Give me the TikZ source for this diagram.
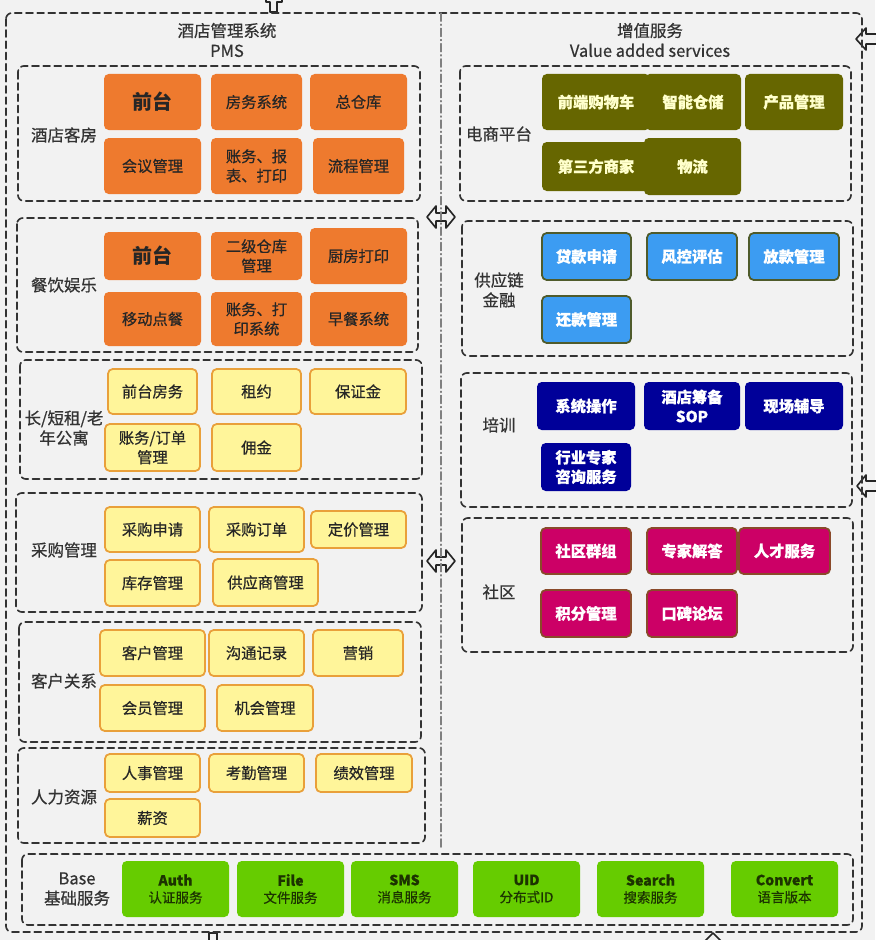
\documentclass[tikz,border=0pt]{standalone}
\usepackage{fontspec}
\setmainfont{Noto Sans CJK SC}
\newfontfamily\medfont[FakeBold=0.6]{Noto Sans CJK SC}
\usetikzlibrary{arrows.meta}
\definecolor{bgc}{HTML}{F2F2F2}
\definecolor{lineg}{HTML}{333333}
\definecolor{orafill}{HTML}{EE7A2E}
\definecolor{yelfill}{HTML}{FFF59A}
\definecolor{yeldraw}{HTML}{E9A03A}
\definecolor{olvfill}{HTML}{666600}
\definecolor{olvtext}{HTML}{FFFFCC}
\definecolor{blufill}{HTML}{3C9CF2}
\definecolor{bludraw}{HTML}{4F5B2B}
\definecolor{navfill}{HTML}{000099}
\definecolor{magfill}{HTML}{CC0066}
\definecolor{magdraw}{HTML}{8A4A2A}
\definecolor{grnfill}{HTML}{66CC00}
\definecolor{grntext}{HTML}{1C3300}
\newcommand{\cellfont}{\medfont\fontsize{13}{16.5}\selectfont}
\newcommand{\grpfont}{\medfont\fontsize{14}{17}\selectfont}
\newcommand{\bigcell}{\fontsize{17}{20}\selectfont\bfseries}
\newcommand{\basefont}{\medfont\fontsize{11.5}{14.5}\selectfont}

\begin{document}
\begin{tikzpicture}[>=Latex, line cap=round, line join=round,
	x=0.85pt, y=-0.85pt,
	grp/.style={draw=lineg, line width=1.4pt, dash pattern=on 6pt off 3.5pt, rounded corners=5pt},
	sz/.style 2 args={minimum width=#1*0.85pt, minimum height=#2*0.85pt},
	cell/.style={rounded corners=4pt, inner sep=0pt, align=center, font=\cellfont},
	grplabel/.style={align=center, text=lineg, font=\grpfont},
	ora/.style={cell, fill=orafill, text=black!85},
	yel/.style={cell, fill=yelfill, draw=yeldraw, line width=1.5pt, text=black!85},
	olv/.style={cell, fill=olvfill, text=olvtext, font=\cellfont\bfseries},
	blu/.style={cell, fill=blufill, draw=bludraw, line width=1.5pt, text=white, font=\cellfont\bfseries},
	nav/.style={cell, fill=navfill, text=white, font=\cellfont\bfseries},
	mag/.style={cell, fill=magfill, draw=magdraw, line width=1.5pt, text=white, font=\cellfont\bfseries},
	grn/.style={cell, fill=grnfill, text=grntext, font=\basefont},
	blockarr/.style={draw=black!85, line width=1.4pt, fill=bgc}]

% background and page size
\fill[bgc] (0,0) rectangle (875,940);
\useasboundingbox (0,0) rectangle (875,940);

% cut-off block arrows at the edges
\draw[blockarr] (427,217) -- (436,206) -- (436,213) -- (446,213) -- (446,206) -- (455,217)
	-- (446,228) -- (446,221) -- (436,221) -- (436,228) -- cycle;
\draw[blockarr] (427,561) -- (436,550) -- (436,557) -- (446,557) -- (446,550) -- (455,561)
	-- (446,572) -- (446,565) -- (436,565) -- (436,572) -- cycle;
\draw[blockarr] (877,34) -- (866,34) -- (866,28) -- (856,39) -- (866,50) -- (866,44) -- (877,44);
\draw[blockarr] (877,481) -- (866,481) -- (866,475) -- (857,486) -- (866,497) -- (866,491) -- (877,491);
\draw[blockarr] (266,-2) -- (266,2) -- (270,2) -- (270,12) -- (277,12) -- (277,2) -- (282,2) -- (282,-2);
\draw[blockarr] (209,942) -- (209,933) -- (217,933) -- (217,942);
\draw[blockarr] (704,942) -- (713,933) -- (722,942);

% outer frame and divider
\draw[grp] (6,13) rectangle (862,932);
\draw[black!50, line width=1pt, dash pattern=on 7pt off 2.5pt on 1pt off 2.5pt] (441,13) -- (441,848);

%========================
% Left: PMS
%========================
\begin{scope}
	\node[grplabel] (pms) at (227,40) {酒店管理系统\\PMS};

	% 酒店客房
	\draw[grp] (18,66) rectangle (420,201);
	\node[grplabel] (kf) at (64,135) {酒店客房};
	\node[ora, sz={97}{56}, font=\bigcell] (kf1) at (152.5,102) {前台};
	\node[ora, sz={91}{56}] (kf2) at (256.5,102) {房务系统};
	\node[ora, sz={97}{56}] (kf3) at (358.5,102) {总仓库};
	\node[ora, sz={97}{56}] (kf4) at (152.5,166) {会议管理};
	\node[ora, sz={91}{56}] (kf5) at (256.5,166) {账务、报\\表、打印};
	\node[ora, sz={91}{56}] (kf6) at (358.5,166) {流程管理};

	% 餐饮娱乐
	\draw[grp] (17,218) rectangle (418,352);
	\node[grplabel] (cy) at (64,285) {餐饮娱乐};
	\node[ora, sz={97}{48}, font=\bigcell] (cy1) at (152.5,256) {前台};
	\node[ora, sz={91}{48}] (cy2) at (256.5,256) {二级仓库\\管理};
	\node[ora, sz={97}{56}] (cy3) at (358.5,256) {厨房打印};
	\node[ora, sz={97}{54}] (cy4) at (152.5,319) {移动点餐};
	\node[ora, sz={91}{54}] (cy5) at (256.5,319) {账务、打\\印系统};
	\node[ora, sz={97}{54}] (cy6) at (358.5,319) {早餐系统};

	% 长/短租/老年公寓
	\draw[grp] (20,360) rectangle (422,479);
	\node[grplabel] (gy) at (64,428) {长/短租/老\\年公寓};
	\node[yel, sz={89}{45}] (gy1) at (152.5,391.5) {前台房务};
	\node[yel, sz={89}{45}] (gy2) at (256.5,391.5) {租约};
	\node[yel, sz={96}{45}] (gy3) at (358,391.5) {保证金};
	\node[yel, sz={95}{47}] (gy4) at (152.5,447.5) {账务/订单\\管理};
	\node[yel, sz={89}{47}] (gy5) at (256.5,447.5) {佣金};

	% 采购管理
	\draw[grp] (16,493) rectangle (422,612);
	\node[grplabel] (cg) at (64,550) {采购管理};
	\node[yel, sz={95}{45}] (cg1) at (152.5,529.5) {采购申请};
	\node[yel, sz={95}{45}] (cg2) at (256.5,529.5) {采购订单};
	\node[yel, sz={95}{37}] (cg3) at (358.5,529.5) {定价管理};
	\node[yel, sz={95}{46}] (cg4) at (152.5,583) {库存管理};
	\node[yel, sz={105}{47}] (cg5) at (265.5,582.5) {供应商管理};

	% 客户关系
	\draw[grp] (19,622) rectangle (421,742);
	\node[grplabel] (kh) at (64,681) {客户关系};
	\node[yel, sz={105}{46}] (kh1) at (152.5,653) {客户管理};
	\node[yel, sz={95}{46}] (kh2) at (256.5,653) {沟通记录};
	\node[yel, sz={90}{46}] (kh3) at (358,653) {营销};
	\node[yel, sz={105}{46}] (kh4) at (152.5,708) {会员管理};
	\node[yel, sz={96}{46}] (kh5) at (265,708) {机会管理};

	% 人力资源
	\draw[grp] (18,748) rectangle (425,843);
	\node[grplabel] (rl) at (64,797) {人力资源};
	\node[yel, sz={95}{38}] (rl1) at (152.5,773) {人事管理};
	\node[yel, sz={95}{38}] (rl2) at (256.5,773) {考勤管理};
	\node[yel, sz={96}{38}] (rl3) at (364,773) {绩效管理};
	\node[yel, sz={95}{38}] (rl4) at (152.5,818) {薪资};
\end{scope}

%========================
% Right: value added services
%========================
\begin{scope}
	\node[grplabel] (vas) at (650,40) {增值服务\\Value added services};

	% 电商平台
	\draw[grp] (460,66) rectangle (851,201);
	\node[grplabel] (ds) at (499,134) {电商平台};
	\node[olv, sz={108}{56}] (ds1) at (596,102) {前端购物车};
	\node[olv, sz={96}{56}] (ds2) at (693,102) {智能仓储};
	\node[olv, sz={98}{56}] (ds3) at (794,102) {产品管理};
	\node[olv, sz={108}{49}] (ds4) at (596,166.5) {第三方商家};
	\node[olv, sz={97}{57}] (ds5) at (692.5,166.5) {物流};

	% 供应链金融
	\draw[grp] (462,221) rectangle (853,356);
	\node[grplabel] (jr) at (499,290) {供应链\\金融};
	\node[blu, sz={89}{47}] (jr1) at (586.5,256.5) {贷款申请};
	\node[blu, sz={90}{47}] (jr2) at (692,256.5) {风控评估};
	\node[blu, sz={90}{47}] (jr3) at (794,256.5) {放款管理};
	\node[blu, sz={89}{47}] (jr4) at (586.5,319.5) {还款管理};

	% 培训
	\draw[grp] (461,373) rectangle (852,507);
	\node[grplabel] (px) at (499,425) {培训};
	\node[nav, sz={98}{48}] (px1) at (586,406) {系统操作};
	\node[nav, sz={96}{48}] (px2) at (692,406) {酒店筹备\\SOP};
	\node[nav, sz={98}{48}] (px3) at (794,406) {现场辅导};
	\node[nav, sz={90}{48}] (px4) at (586,467) {行业专家\\咨询服务};

	% 社区
	\draw[grp] (462,518) rectangle (853,652);
	\node[grplabel] (sq) at (499,592) {社区};
	\node[mag, sz={90}{46}] (sq1) at (586,551) {社区群组};
	\node[mag, sz={90}{46}] (sq2) at (692,551) {专家解答};
	\node[mag, sz={91}{46}] (sq3) at (784.5,551) {人才服务};
	\node[mag, sz={90}{47}] (sq4) at (586,613.5) {积分管理};
	\node[mag, sz={90}{47}] (sq5) at (692,613.5) {口碑论坛};
\end{scope}

%========================
% Bottom: base services
%========================
\draw[grp] (22,854) rectangle (853,925);
\node[grplabel] (base) at (77,889) {Base\\基础服务};
\node[grn, sz={107}{56}] (auth) at (175.5,889) {\textbf{\large Auth}\\认证服务};
\node[grn, sz={107}{56}] (file) at (290.5,889) {\textbf{\large File}\\文件服务};
\node[grn, sz={107}{56}] (sms) at (404.5,889) {\textbf{\large SMS}\\消息服务};
\node[grn, sz={107}{56}] (uid) at (526.5,889) {\textbf{\large UID}\\分布式ID};
\node[grn, sz={107}{56}] (search) at (650.5,889) {\textbf{\large Search}\\搜索服务};
\node[grn, sz={107}{56}] (conv) at (784.5,889) {\textbf{\large Convert}\\语言版本};

\end{tikzpicture}
\end{document}
